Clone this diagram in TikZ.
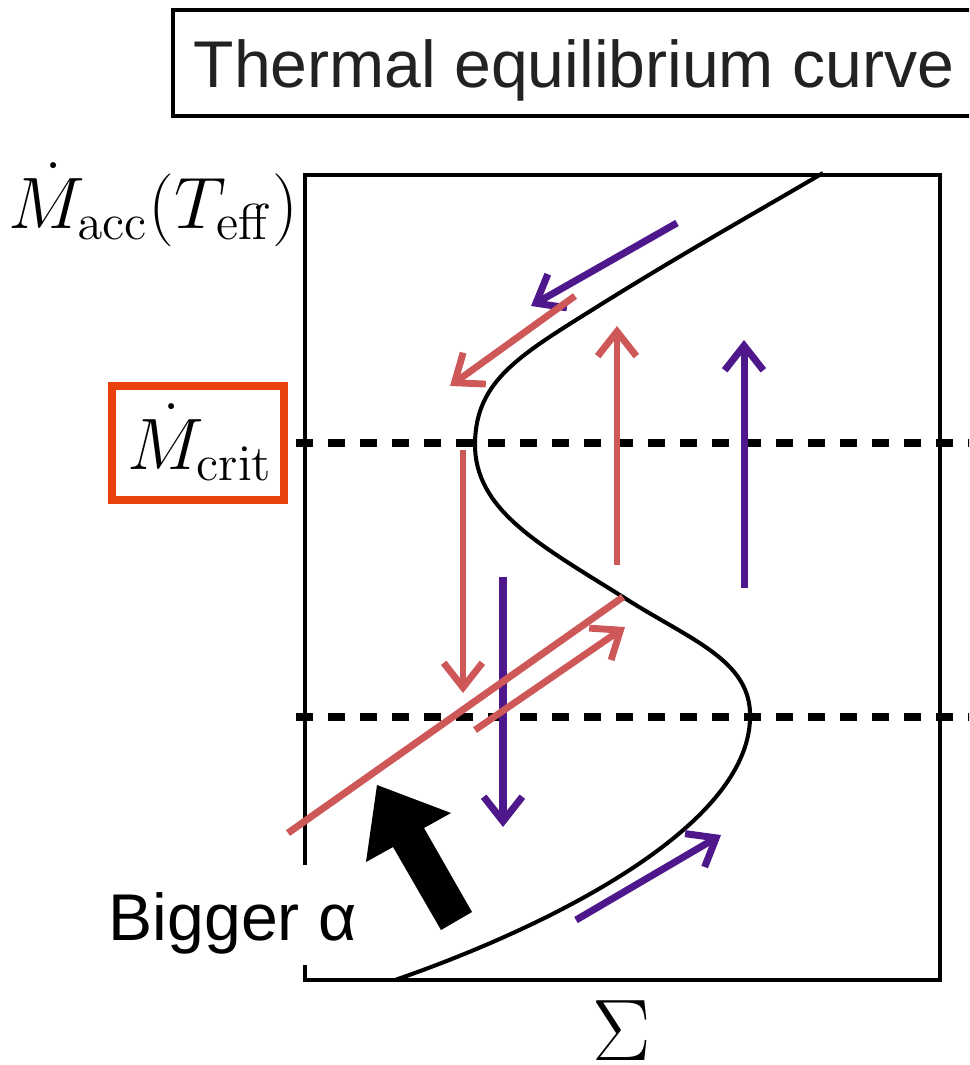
\documentclass[tikz,border=0pt]{standalone}
\usepackage[no-math]{fontspec}
\newfontfamily\sansf{Liberation Sans}
\usetikzlibrary{arrows.meta}
\definecolor{redc}{RGB}{206,87,87}
\definecolor{purc}{RGB}{78,24,140}
\definecolor{orangec}{RGB}{233,66,12}
\definecolor{titlegray}{RGB}{34,34,34}
\tikzset{
  framestyle/.style={line width=1.15pt, black},
  curvestyle/.style={line width=1.15pt, black},
  dashline/.style={line width=2pt, black, dash pattern=on 4.8pt off 4.3pt},
  redarr/.style={line width=1.95pt, redc, -{Straight Barb[length=7pt,width=11pt]}},
  purarr/.style={line width=2pt, purc, -{Straight Barb[length=7pt,width=11pt]}},
  redline/.style={line width=2pt, redc},
  sanslab/.style={inner sep=0pt, font=\sansf\fontsize{18.8}{22}\selectfont},
}
\begin{document}
\begin{tikzpicture}[x=0.01cm,y=-0.01cm]
\useasboundingbox (0,0) rectangle (969,1065);
\clip (0,0) rectangle (969,1065);
% title box (right side runs off the picture)
\draw[framestyle, line width=1.2pt] (1000,10) -- (173,10) -- (173,116) -- (1000,116);
\node[sanslab, anchor=base west, text=titlegray] (title) at (193,88) {Thermal equilibrium curve};
% frame
\draw[framestyle] (305,865) -- (305,175) -- (940,175) -- (940,980) -- (305,980) -- (305,965);
% dashed levels
\draw[dashline] (296,443) -- (975,443);
\draw[dashline] (296,717) -- (975,717);
% S curve
\draw[curvestyle] (395,980) .. controls (540,930) and (748,830) .. (750,718)
  .. controls (752,660) and (690,640) .. (623,597)
  .. controls (540,545) and (474,510) .. (475,443)
  .. controls (476,380) and (520,355) .. (600,305)
  .. controls (680,255) and (760,210) .. (823,173);
% arrow end points
\coordinate (p1s) at (677,223); \coordinate (p1e) at (531,306);
\coordinate (r2s) at (575,296); \coordinate (r2e) at (450,386);
\coordinate (r3s) at (617,565); \coordinate (r3e) at (617,326);
\coordinate (p4s) at (744,588); \coordinate (p4e) at (744,340);
\coordinate (r5s) at (463,450); \coordinate (r5e) at (463,693);
\coordinate (p6s) at (503,577); \coordinate (p6e) at (503,827);
\coordinate (dls) at (288,833); \coordinate (dle) at (623,597);
\coordinate (r8s) at (475,730); \coordinate (r8e) at (625,627);
\coordinate (p9s) at (576,920); \coordinate (p9e) at (721,835);
\draw[purarr] (p1s) -- (p1e);
\draw[redarr] (r2s) -- (r2e);
\draw[redarr] (r3s) -- (r3e);
\draw[purarr] (p4s) -- (p4e);
\draw[redarr] (r5s) -- (r5e);
\draw[purarr] (p6s) -- (p6e);
\draw[redline] (dls) -- (dle);
\draw[redarr] (r8s) -- (r8e);
\draw[purarr] (p9s) -- (p9e);
% big black arrow
\fill[black] (377,785) -- (451,813) -- (424,828) -- (472,912) -- (441,930) -- (393,847) -- (366,862) -- cycle;
\node[sanslab, anchor=base west] (bigger) at (108,940) {Bigger α};
% axis labels
\node[anchor=base east, inner sep=0pt, font=\fontsize{19.8}{24}\selectfont] (macc) at (299,229) {$\dot M_{\mathrm{acc}}(T_{\mathrm{eff}})$};
\node[anchor=base west, inner sep=0pt, font=\fontsize{19.6}{24}\selectfont] (mcrit) at (127,470) {$\dot M_{\mathrm{crit}}$};
\draw[orangec, line width=2pt] (112,386) rectangle (284,500);
\node[font=\fontsize{24}{28}\selectfont, inner sep=0pt] (sig) at (622,1031) {$\Sigma$};
\end{tikzpicture}
\end{document}
